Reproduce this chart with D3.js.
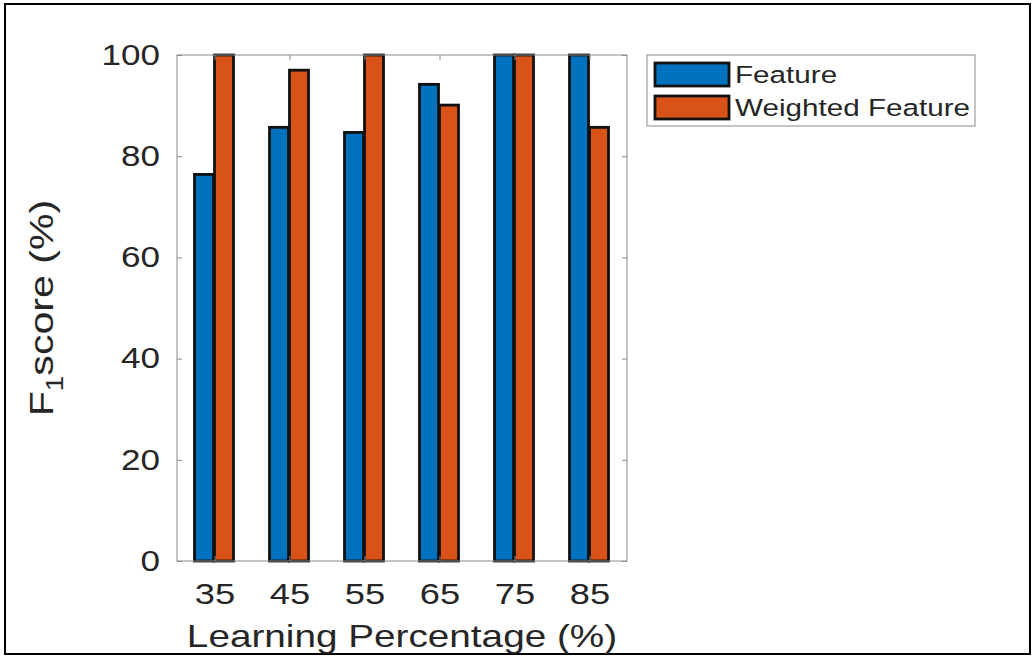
<!DOCTYPE html>
<html>
<head>
<meta charset="utf-8">
<script src="https://cdn.jsdelivr.net/npm/d3@7"></script>
<style>
  body { margin: 0; background: #fff; }
  text { font-family: "Liberation Sans", Arial, sans-serif; fill: #262626; }
</style>
</head>
<body>
<div id="chart"></div>
<script>
// data
const categories = ["35", "45", "55", "65", "75", "85"];
const seriesNames = ["Feature", "Weighted Feature"];
const featureVals = [76.4, 85.7, 84.7, 94.2, 100, 100];
const weightedVals = [100, 97.0, 100, 90.1, 100, 85.7];
const yTicks = [0, 20, 40, 60, 80, 100];
const colors = ["#0072BD", "#D95319"];

const W = 1032, H = 657;
const plot = {left: 177, right: 627, top: 55, bottom: 561};
// the exported figure has its text a bit wider than normal
const S = 1.21;

let svg = d3.select("#chart").append("svg")
    .attr("width", W)
    .attr("height", H);

// outer frame
svg.append("rect")
    .attr("x", 5).attr("y", 4)
    .attr("width", 1025).attr("height", 650)
    .attr("fill", "none")
    .attr("stroke", "#000")
    .attr("stroke-width", 2);

let x0 = d3.scaleBand()
    .domain(categories)
    .range([plot.left, plot.right]);

let x1 = d3.scaleBand()
    .domain(seriesNames)
    .range([0, 40]);

let y = d3.scaleLinear()
    .domain([0, 100])
    .range([plot.bottom, plot.top]);

let rows = categories.map((c, i) => ({cat: c, vals: [featureVals[i], weightedVals[i]]}));

// bars
let groups = svg.selectAll(".grp")
    .data(rows)
    .enter()
    .append("g")
    .attr("class", "grp")
    .attr("transform", d => `translate(${x0(d.cat) + x0.bandwidth() / 2 - 21},0)`);

groups.selectAll("rect")
    .data(d => d.vals.map((v, j) => ({name: seriesNames[j], v: v, j: j})))
    .enter()
    .append("rect")
    .attr("x", d => x1(d.name) + 1)
    .attr("width", x1.bandwidth() - 1)
    .attr("y", d => y(d.v))
    .attr("height", d => y(0) - y(d.v))
    .attr("fill", d => colors[d.j])
    .attr("stroke", "#111")
    .attr("stroke-width", 2.8);

// axes box
let axisColor = "#8a8a8a";
svg.append("rect")
    .attr("x", plot.left).attr("y", plot.top)
    .attr("width", plot.right - plot.left)
    .attr("height", plot.bottom - plot.top)
    .attr("fill", "none")
    .attr("stroke", axisColor)
    .attr("stroke-width", 1);

// left axis
let gy = svg.append("g")
    .attr("transform", `translate(${plot.left},0)`)
    .call(d3.axisLeft(y).tickValues(yTicks).tickSize(-5).tickPadding(14));
gy.select(".domain").remove();
gy.selectAll("line").attr("stroke", axisColor);
gy.selectAll("text")
    .style("font-size", "29px")
    .attr("fill", "#262626")
    .attr("transform", `scale(${S},1)`);

// right ticks
let gy2 = svg.append("g")
    .attr("transform", `translate(${plot.right},0)`)
    .call(d3.axisRight(y).tickValues(yTicks).tickSize(-5).tickFormat(""));
gy2.select(".domain").remove();
gy2.selectAll("line").attr("stroke", axisColor);

// bottom axis
let xPts = d3.scalePoint()
    .domain(categories)
    .range([plot.left + x0.bandwidth() / 2, plot.right - x0.bandwidth() / 2]);
let gx = svg.append("g")
    .attr("transform", `translate(0,${plot.bottom})`)
    .call(d3.axisBottom(xPts).tickSize(-5).tickPadding(22));
gx.select(".domain").remove();
gx.selectAll("line").attr("stroke", axisColor);
gx.selectAll("text")
    .style("font-size", "30px")
    .attr("fill", "#262626")
    .attr("transform", `scale(${S},1)`);

// top ticks
let gx2 = svg.append("g")
    .attr("transform", `translate(0,${plot.top})`)
    .call(d3.axisTop(xPts).tickSize(-5).tickFormat(""));
gx2.select(".domain").remove();
gx2.selectAll("line").attr("stroke", axisColor);

// x label
svg.append("text")
    .attr("transform", `translate(${(plot.left + plot.right) / 2},647) scale(${S},1)`)
    .attr("text-anchor", "middle")
    .style("font-size", "32px")
    .text("Learning Percentage (%)");

// y label with subscript
let yl = svg.append("text")
    .attr("transform", `translate(53,${(plot.top + plot.bottom) / 2}) rotate(-90) scale(${S},1)`)
    .attr("text-anchor", "middle")
    .style("font-size", "34px");
yl.append("tspan").text("F");
yl.append("tspan").attr("dy", 10).style("font-size", "23px").text("1");
yl.append("tspan").attr("dy", -10).text("score (%)");

// legend
let lg = svg.append("g");
lg.append("rect")
    .attr("x", 647).attr("y", 55)
    .attr("width", 328).attr("height", 71)
    .attr("fill", "#fff")
    .attr("stroke", axisColor);

let items = lg.selectAll(".item")
    .data(seriesNames)
    .enter()
    .append("g")
    .attr("class", "item")
    .attr("transform", (d, i) => `translate(0,${62 + i * 33})`);

items.append("rect")
    .attr("x", 655).attr("y", 1)
    .attr("width", 74).attr("height", 23)
    .attr("fill", (d, i) => colors[i])
    .attr("stroke", "#111")
    .attr("stroke-width", 2.8);

items.append("text")
    .attr("transform", `translate(735,21) scale(${S},1)`)
    .style("font-size", "24.5px")
    .text(d => d);
</script>
</body>
</html>
